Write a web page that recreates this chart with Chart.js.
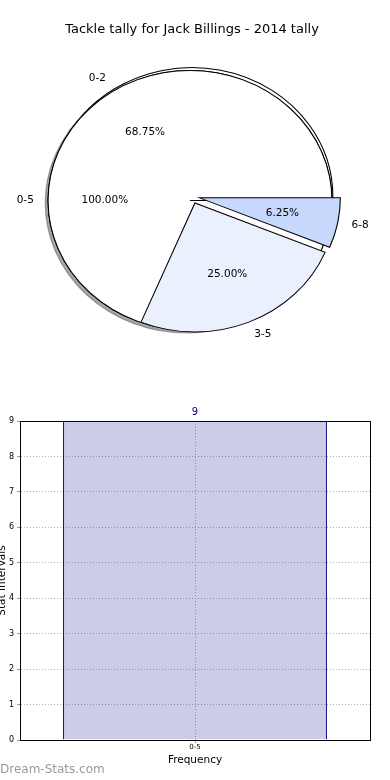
<!DOCTYPE html>
<html>
<head>
<meta charset="utf-8">
<script src="https://cdn.jsdelivr.net/npm/chart.js@4/dist/chart.umd.min.js"></script>
<style>
  body { margin: 0; background: #fff; }
  #page { position: relative; width: 390px; height: 780px; overflow: hidden; }
  canvas { position: absolute; left: 0; }
  #range-pie, #total-pie { top: 0; }
  #frequency-bar { top: 380px; }
</style>
</head>
<body>
<div id="page">
  <canvas id="range-pie" width="390" height="370"></canvas>
  <canvas id="total-pie" width="390" height="370"></canvas>
  <canvas id="frequency-bar" width="390" height="400"></canvas>
</div>
<script>
const chartTitle = "Tackle tally for Jack Billings - 2014 tally";

// pie: tackle ranges
const rangeLabels = ["0-2", "3-5", "6-8"];
const rangeCounts = [11, 4, 1];
const rangeColors = ["#ffffff", "#eaf0fd", "#c6d9fc"];

// pie drawn over the first slice: the whole interval
const totalLabels = ["0-5"];
const totalCounts = [9];

// bar chart
const barLabels = ["0-5"];
const barValues = [9];
const barMax = 9;

// look of the pies
const pieStretch = 1.092; // original pie is wider than tall
const rangeExplode = [0, 7, 7];
const backSlices = ["0-2"]; // slices that sit under the 0-5 pie

Chart.defaults.font.family = "DejaVu Sans";
Chart.defaults.color = "#000";

function percentText(value, values) {
  const sum = values.reduce((a, b) => a + b, 0);
  return ((value / sum) * 100).toFixed(2) + "%";
}

function centerX(chart) {
  return (chart.chartArea.left + chart.chartArea.right) / 2;
}

// draw some arcs of a pie chart, squashed and pushed out from the centre
function drawArcs(ctx, chart, explode, keep, shadow) {
  const cx = centerX(chart);
  const meta = chart.getDatasetMeta(0);
  const passes = shadow ? [shadow, null] : [null];
  passes.forEach((shade) => {
    ctx.save();
    ctx.translate(cx, 0);
    ctx.scale(pieStretch, 1);
    ctx.translate(-cx, 0);
    if (shade) {
      ctx.shadowColor = shade;
      ctx.shadowOffsetX = -2.8;
      ctx.shadowOffsetY = 2.6;
    }
    meta.data.forEach((arc, i) => {
      if (!keep(chart.data.labels[i])) return;
      const e = explode[i] || 0;
      const mid = (arc.startAngle + arc.endAngle) / 2;
      ctx.save();
      ctx.translate(Math.cos(mid) * e, Math.sin(mid) * e);
      arc.draw(ctx);
      ctx.restore();
    });
    ctx.restore();
  });
}

function drawPieLabels(ctx, chart, explode) {
  const cx = centerX(chart);
  const values = chart.data.datasets[0].data;
  const arcs = chart.getDatasetMeta(0).data;
  ctx.save();
  ctx.font = "10.5px DejaVu Sans";
  ctx.fillStyle = "#000";
  ctx.textBaseline = "middle";
  arcs.forEach((arc, i) => {
    const e = explode[i] || 0;
    const mid = (arc.startAngle + arc.endAngle) / 2;
    const cos = Math.cos(mid);
    const sin = Math.sin(mid);
    const r = arc.outerRadius;
    const place = (d) => [cx + (arc.x + cos * d - cx) * pieStretch, arc.y + sin * d];
    const [lx, ly] = place(e + 1.1 * r);
    ctx.textAlign = cos > 0 ? "left" : "right";
    ctx.fillText(chart.data.labels[i], lx, ly);
    const [px, py] = place(e + 0.6 * r);
    ctx.textAlign = "center";
    ctx.fillText(percentText(values[i], values), px, py);
  });
  ctx.restore();
}

// chart.js goes clockwise from east, the original goes anticlockwise
const rangeOrder = rangeLabels.map((_, i) => rangeLabels.length - 1 - i);
const rangeChartExplode = rangeOrder.map((i) => rangeExplode[i]);

const backLayer = {
  id: "backLayer",
  beforeDatasetDraw(chart) {
    drawArcs(chart.ctx, chart, rangeChartExplode, (l) => backSlices.includes(l));
    return false;
  },
};

const frontLayer = {
  id: "frontLayer",
  beforeDatasetDraw(chart) {
    const ctx = chart.ctx;
    drawArcs(ctx, chart, [0], () => true, "rgba(77,77,77,0.5)");
    const rangeChart = Chart.getChart("range-pie");
    drawArcs(ctx, rangeChart, rangeChartExplode, (l) => !backSlices.includes(l));
    return false;
  },
  afterDatasetsDraw(chart) {
    const ctx = chart.ctx;
    drawPieLabels(ctx, Chart.getChart("range-pie"), rangeChartExplode);
    drawPieLabels(ctx, chart, [0]);
  },
};

new Chart(document.getElementById("range-pie"), {
  type: "pie",
  data: {
    labels: rangeOrder.map((i) => rangeLabels[i]),
    datasets: [
      {
        data: rangeOrder.map((i) => rangeCounts[i]),
        backgroundColor: rangeOrder.map((i) => rangeColors[i]),
        borderColor: "#000",
        borderWidth: 1,
        borderJoinStyle: "miter",
      },
    ],
  },
  options: {
    responsive: false,
    animation: false,
    rotation: 90,
    radius: 129,
    layout: { padding: { top: 0, right: 6, bottom: 14.6, left: 0 } },
    plugins: {
      legend: { display: false },
      tooltip: { enabled: false },
      title: {
        display: true,
        text: chartTitle,
        color: "#000",
        font: { size: 13, weight: "normal" },
        padding: { top: 22, bottom: 0 },
      },
    },
  },
  plugins: [backLayer],
});

new Chart(document.getElementById("total-pie"), {
  type: "pie",
  data: {
    labels: totalLabels,
    datasets: [
      {
        data: totalCounts,
        backgroundColor: "#ffffff",
        borderColor: "#000",
        borderWidth: 1,
        borderJoinStyle: "miter",
      },
    ],
  },
  options: {
    responsive: false,
    animation: false,
    rotation: 90,
    radius: 130,
    layout: { padding: { top: 37.6, right: 10, bottom: 6.6, left: 0 } },
    plugins: {
      legend: { display: false },
      tooltip: { enabled: false },
    },
  },
  plugins: [frontLayer],
});

const barExtras = {
  id: "barExtras",
  afterDatasetsDraw(chart) {
    const ctx = chart.ctx;
    const { left, top, right, bottom } = chart.chartArea;
    const align = (p) => Math.round(p - 0.5) + 0.5;
    ctx.save();
    ctx.strokeStyle = "#000";
    ctx.lineWidth = 1;
    ctx.strokeRect(align(left), align(top), align(right) - align(left), align(bottom) - align(top));

    const meta = chart.getDatasetMeta(0);
    ctx.fillStyle = "#000080";
    ctx.font = "10px DejaVu Sans";
    ctx.textAlign = "center";
    ctx.textBaseline = "middle";
    meta.data.forEach((bar, i) => {
      ctx.fillText(String(chart.data.datasets[0].data[i]), bar.x, bar.y - 9);
    });
    ctx.restore();
  },
  afterDraw(chart) {
    const ctx = chart.ctx;
    ctx.save();
    ctx.fillStyle = "#9a9a9a";
    ctx.font = "12px DejaVu Sans";
    ctx.textAlign = "left";
    ctx.textBaseline = "middle";
    ctx.fillText("Dream-Stats.com", 0, chart.height - 10);
    ctx.restore();
  },
};

new Chart(document.getElementById("frequency-bar"), {
  type: "bar",
  data: {
    labels: barLabels,
    datasets: [
      {
        data: barValues,
        backgroundColor: "rgba(0,0,128,0.2)",
        borderColor: "#000080",
        borderWidth: { left: 1, right: 1, top: 1, bottom: 0 },
        barPercentage: 0.754,
        categoryPercentage: 1,
      },
    ],
  },
  options: {
    responsive: false,
    animation: false,
    layout: { padding: { top: 41, right: 20, left: 0, bottom: 0 } },
    plugins: {
      legend: { display: false },
      tooltip: { enabled: false },
    },
    scales: {
      x: {
        grid: { offset: false, color: "#b0b0b0", tickLength: 3, tickColor: "#999" },
        border: { color: "#000", dash: [1, 2] },
        ticks: { font: { size: 7 }, color: "#000", padding: 0 },
        title: {
          display: true,
          text: "Frequency",
          color: "#000",
          font: { size: 10.5 },
          padding: { top: 0, bottom: 13.4 },
        },
        afterFit(scale) {
          scale.height = 40;
        },
      },
      y: {
        min: 0,
        max: barMax,
        grid: { color: "#b0b0b0", tickLength: 3, tickColor: "#999" },
        border: { color: "#000", dash: [1, 2] },
        ticks: { stepSize: 1, font: { size: 8 }, color: "#000", padding: 3 },
        title: {
          display: true,
          text: "Stat Intervals",
          color: "#000",
          font: { size: 10.5 },
          padding: { top: -4, bottom: 0 },
        },
        afterFit(scale) {
          scale.width = 20;
        },
      },
    },
  },
  plugins: [barExtras],
});
</script>
</body>
</html>
